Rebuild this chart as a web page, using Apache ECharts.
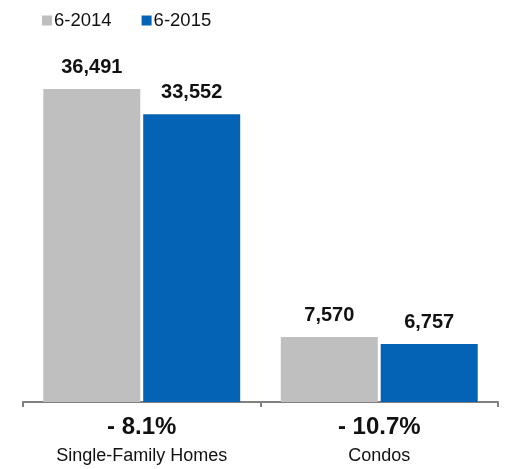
<!DOCTYPE html>
<html><head><meta charset="utf-8">
<script src="https://cdn.jsdelivr.net/npm/echarts@6/dist/echarts.min.js"></script>
<style>html,body{margin:0;padding:0;background:#fff}#c{width:506px;height:469px}</style>
</head><body><div id="c"></div>
<script>
const categories = ['Single-Family Homes', 'Condos'];
const changes = ['- 8.1%', '- 10.7%'];
const seriesNames = ['6-2014', '6-2015'];
const values2014 = [36491, 7570];
const values2015 = [33552, 6757];
const colors = ['#bfbfbf', '#0563b5'];

const chart = echarts.init(document.getElementById('c'));
const font = '"Liberation Sans", Arial, Helvetica, sans-serif';
const labelCfg = {
  show: true, position: 'top', distance: 12,
  fontFamily: font, fontSize: 20, fontWeight: 'bold', color: '#111',
  formatter: p => p.value.toLocaleString('en-US')
};
chart.setOption({
  animation: false,
  textStyle: { fontFamily: font },
  legend: {
    left: 37, top: 6, itemWidth: 10, itemHeight: 10, itemGap: 30,
    icon: 'rect',
    textStyle: { fontFamily: font, fontSize: 18.5, color: '#111', padding: [0, 0, 0, -3] },
    data: seriesNames
  },
  grid: { left: 23, right: 8, top: 59, bottom: 67 },
  xAxis: {
    type: 'category', data: categories,
    axisLine: { lineStyle: { color: '#808080', width: 2 } },
    axisTick: { show: true, length: 5, lineStyle: { color: '#808080', width: 2 } },
    axisLabel: {
      margin: 11, interval: 0,
      formatter: (v, i) => '{p|' + changes[i] + '}\n{n|' + v + '}',
      rich: {
        p: { fontFamily: font, fontSize: 24, fontWeight: 'bold', color: '#111', lineHeight: 28 },
        n: { fontFamily: font, fontSize: 18, color: '#111', lineHeight: 30 }
      }
    }
  },
  yAxis: { type: 'value', min: 0, max: 40000, show: false, splitLine: { show: false } },
  series: [
    { name: seriesNames[0], type: 'bar', data: values2014, barWidth: 97, barGap: '3%',
      itemStyle: { color: colors[0] }, label: labelCfg },
    { name: seriesNames[1], type: 'bar', data: values2015, barWidth: 97,
      itemStyle: { color: colors[1] }, label: labelCfg }
  ]
});
</script></body></html>
